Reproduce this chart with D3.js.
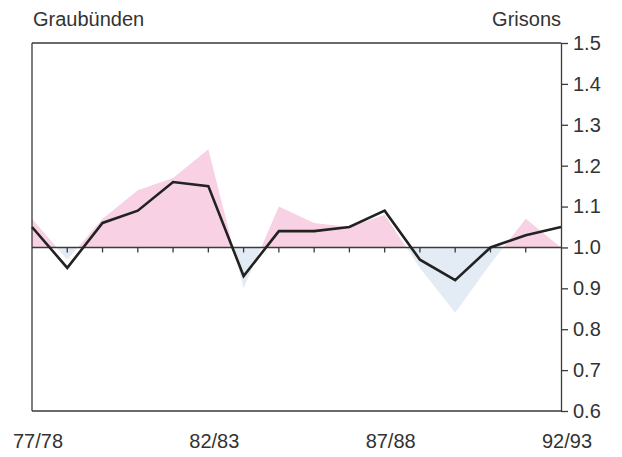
<!DOCTYPE html>
<meta charset="utf-8">
<script src="https://d3js.org/d3.v7.min.js"></script>
<style>
    body { margin: 0; background: #fff; }
    text { font-family: "Liberation Sans", Arial, sans-serif; fill: #333; }
</style>
<svg id="chart" width="622" height="457"></svg>
<script>
    // Seasons along the bottom
    var seasons = ["77/78", "78/79", "79/80", "80/81", "81/82", "82/83", "83/84", "84/85",
        "85/86", "86/87", "87/88", "88/89", "89/90", "90/91", "91/92", "92/93"];
    // Black line
    var lineVals = [1.05, 0.95, 1.06, 1.09, 1.16, 1.15, 0.93, 1.04, 1.04, 1.05, 1.09, 0.97, 0.92, 1.00, 1.03, 1.05];
    // Shaded area (pink above 1, blue below)
    var areaVals = [1.07, 0.97, 1.07, 1.14, 1.17, 1.24, 0.90, 1.10, 1.06, 1.05, 1.08, 0.95, 0.84, 0.96, 1.07, 1.00];
    var yTicks = [0.6, 0.7, 0.8, 0.9, 1.0, 1.1, 1.2, 1.3, 1.4, 1.5];
    var xLabels = ["77/78", "82/83", "87/88", "92/93"];

    var margin = { top: 43, right: 61, bottom: 46, left: 32 },
        width = 622 - margin.left - margin.right,
        height = 457 - margin.top - margin.bottom;

    var svg = d3.select("#chart")
        .append("g")
        .attr("transform", "translate(" + margin.left + "," + margin.top + ")");

    var x = d3.scalePoint().domain(seasons).range([0, width]);
    var y = d3.scaleLinear().domain([0.6, 1.5]).range([height, 0]);

    // clip regions above and below 1.0
    var defs = svg.append("defs");
    defs.append("clipPath").attr("id", "above")
        .append("rect").attr("x", 0).attr("y", 0).attr("width", width).attr("height", y(1));
    defs.append("clipPath").attr("id", "below")
        .append("rect").attr("x", 0).attr("y", y(1)).attr("width", width).attr("height", height - y(1));

    var area = d3.area()
        .x(function(d, i) { return x(seasons[i]); })
        .y0(y(1))
        .y1(function(d) { return y(d); });

    svg.append("path").datum(areaVals)
        .attr("d", area)
        .attr("clip-path", "url(#above)")
        .attr("fill", "#f8d2e4");
    svg.append("path").datum(areaVals)
        .attr("d", area)
        .attr("clip-path", "url(#below)")
        .attr("fill", "#e3ecf4");

    // frame
    var frame = svg.append("g").attr("stroke", "#3a3a3a").attr("stroke-width", 1.3).attr("fill", "none");
    frame.append("line").attr("x1", 0).attr("x2", width).attr("y1", 0).attr("y2", 0);
    frame.append("line").attr("x1", 0).attr("x2", width).attr("y1", height).attr("y2", height);
    frame.append("line").attr("x1", 0).attr("x2", 0).attr("y1", 0).attr("y2", height);

    // 1.0 reference line with small ticks
    frame.append("line").attr("x1", 0).attr("x2", width).attr("y1", y(1)).attr("y2", y(1)).attr("stroke-width", 1.5);
    frame.selectAll(".tk")
        .data(seasons.slice(1, -1))
        .enter().append("line")
        .attr("x1", function(d) { return x(d); })
        .attr("x2", function(d) { return x(d); })
        .attr("y1", y(1))
        .attr("y2", y(1) + 5);

    // right axis
    var yAxis = svg.append("g")
        .attr("transform", "translate(" + width + ",0)")
        .call(d3.axisRight(y).tickValues(yTicks).tickFormat(d3.format(".1f")).tickSize(7).tickSizeOuter(0).tickPadding(5));
    yAxis.select(".domain").attr("stroke", "#3a3a3a").attr("stroke-width", 1.3);
    yAxis.selectAll(".tick line").attr("stroke", "#3a3a3a").attr("stroke-width", 1.3);
    yAxis.selectAll(".tick text")
        .style("font-size", "20px")
        .attr("fill", "#333");

    // line
    var line = d3.line()
        .x(function(d, i) { return x(seasons[i]); })
        .y(function(d) { return y(d); });
    svg.append("path").datum(lineVals)
        .attr("d", line)
        .attr("fill", "none")
        .attr("stroke", "#222")
        .attr("stroke-width", 2.6)
        .attr("stroke-linejoin", "miter");

    // x labels
    svg.selectAll(".xl")
        .data(xLabels)
        .enter().append("text")
        .attr("x", function(d) { return x(d) + 6; })
        .attr("y", height + 37)
        .attr("text-anchor", "middle")
        .style("font-size", "20px")
        .text(function(d) { return d; });

    // titles
    svg.append("text").attr("x", 1).attr("y", -17)
        .style("font-size", "20px").text("Graubünden");
    svg.append("text").attr("x", width).attr("y", -17)
        .attr("text-anchor", "end")
        .style("font-size", "20px").text("Grisons");
</script>
